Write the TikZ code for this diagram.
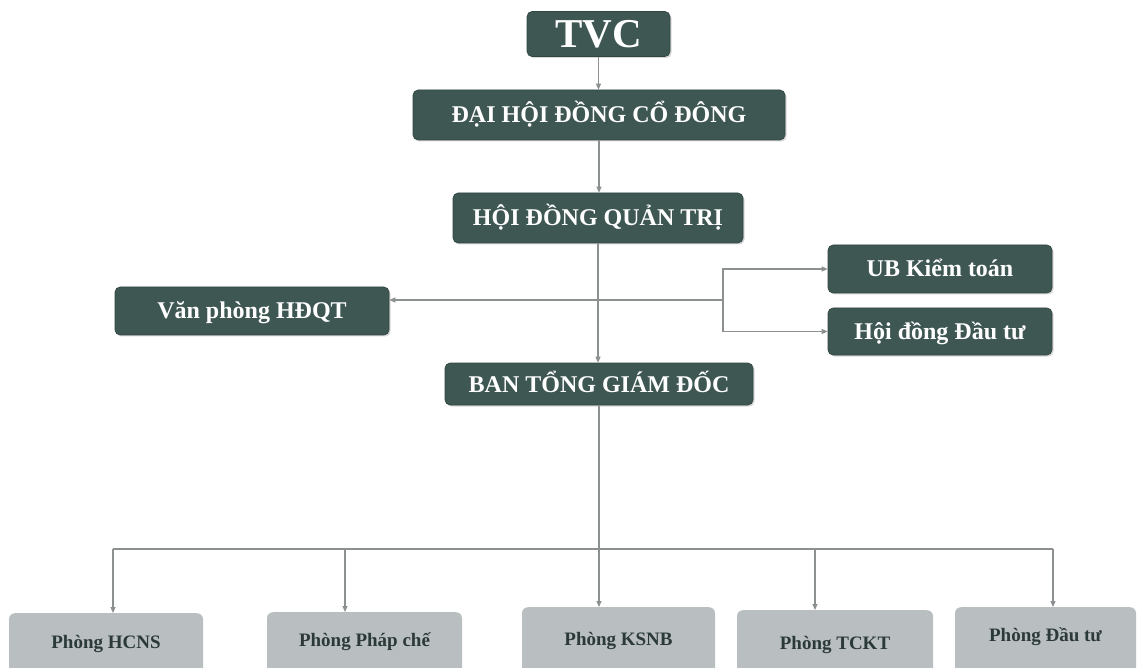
\documentclass[tikz,border=0pt]{standalone}
\usepackage{fontspec}
\setmainfont{Liberation Serif}
\usetikzlibrary{arrows.meta,shadows}
\definecolor{darkbox}{HTML}{3E5753}
\definecolor{lightbox}{HTML}{B9BEC0}
\definecolor{lighttext}{HTML}{2B3A38}
\definecolor{conncol}{HTML}{8C9091}
\begin{document}
\begin{tikzpicture}[x=1pt,y=-1pt,
  darkb/.style={draw=darkbox!80!black, line width=0.6pt, fill=darkbox, rounded corners=5pt,
    text=white, font=\bfseries\fontsize{24pt}{24pt}\selectfont, inner sep=0pt,
    text height=16pt, text depth=0pt,
    drop shadow={shadow xshift=1.5pt, shadow yshift=-1.5pt, fill=black!30, opacity=0.5}},
  lightb/.style={fill=lightbox, rounded corners=6pt, text=lighttext,
    font=\bfseries\fontsize{19pt}{19pt}\selectfont, inner xsep=0pt, inner ysep=0pt,
    anchor=north, text depth=60pt},
  conn/.style={draw=conncol, line width=1.1pt, -{Triangle[length=6pt,width=5pt]}},
  plain/.style={draw=conncol, line width=1.1pt}]
\clip (0,0) rectangle (1138,668);
\fill[white] (0,0) rectangle (1138,668);

% top chain
\node[darkb, minimum width=143pt, minimum height=45pt,
  font=\bfseries\fontsize{41pt}{41pt}\selectfont, text height=27pt] (tvc) at (598.5,34) {TVC};
\node[darkb, minimum width=372pt, minimum height=50pt] (dhdcd) at (599,115) {ĐẠI HỘI ĐỒNG CỔ ĐÔNG};
\node[darkb, minimum width=290pt, minimum height=50pt] (hdqt) at (598,218) {HỘI ĐỒNG QUẢN TRỊ};
\node[darkb, minimum width=274pt, minimum height=48pt] (vp) at (252,311) {Văn phòng HĐQT};
\node[darkb, minimum width=224pt, minimum height=48pt] (ub) at (940,269) {UB Kiểm toán};
\node[darkb, minimum width=224pt, minimum height=47pt] (hddt) at (940,331.5) {Hội đồng Đầu tư};
\node[darkb, minimum width=308pt, minimum height=42pt] (btgd) at (599,384) {BAN TỔNG GIÁM ĐỐC};

% bottom departments
\node[lightb, minimum width=194pt, text height=35pt] (hcns) at (106,613) {Phòng HCNS};
\node[lightb, minimum width=195pt, text height=34pt] (phc) at (364.5,612) {Phòng Pháp chế};
\node[lightb, minimum width=193pt, text height=38pt] (ksnb) at (618.5,607) {Phòng KSNB};
\node[lightb, minimum width=196pt, text height=39pt] (tckt) at (835,610) {Phòng TCKT};
\node[lightb, minimum width=181pt, text height=34pt] (dt) at (1045.5,607) {Phòng Đầu tư};

% connectors
\draw[conn] (tvc.south) -- (tvc.south |- dhdcd.north);
\draw[conn] (dhdcd.south) -- (dhdcd.south |- hdqt.north);
\draw[conn] (hdqt.south) -- (hdqt.south |- btgd.north);

\coordinate (j) at (723,300);
\draw[conn] (j) -- (j -| vp.east);
\draw[conn] (j) |- (ub.west);
\draw[conn] (j) |- (hddt.west);

\coordinate (d1) at (113,549);
\coordinate (d2) at (345,549);
\coordinate (d4) at (815,549);
\coordinate (d5) at (1053,549);
\draw[plain] (d1) -- (d5);
\draw[conn] (btgd.south) -- (btgd.south |- ksnb.north);
\draw[conn] (d1) -- (d1 |- hcns.north);
\draw[conn] (d2) -- (d2 |- phc.north);
\draw[conn] (d4) -- (d4 |- tckt.north);
\draw[conn] (d5) -- (d5 |- dt.north);
\end{tikzpicture}
\end{document}
